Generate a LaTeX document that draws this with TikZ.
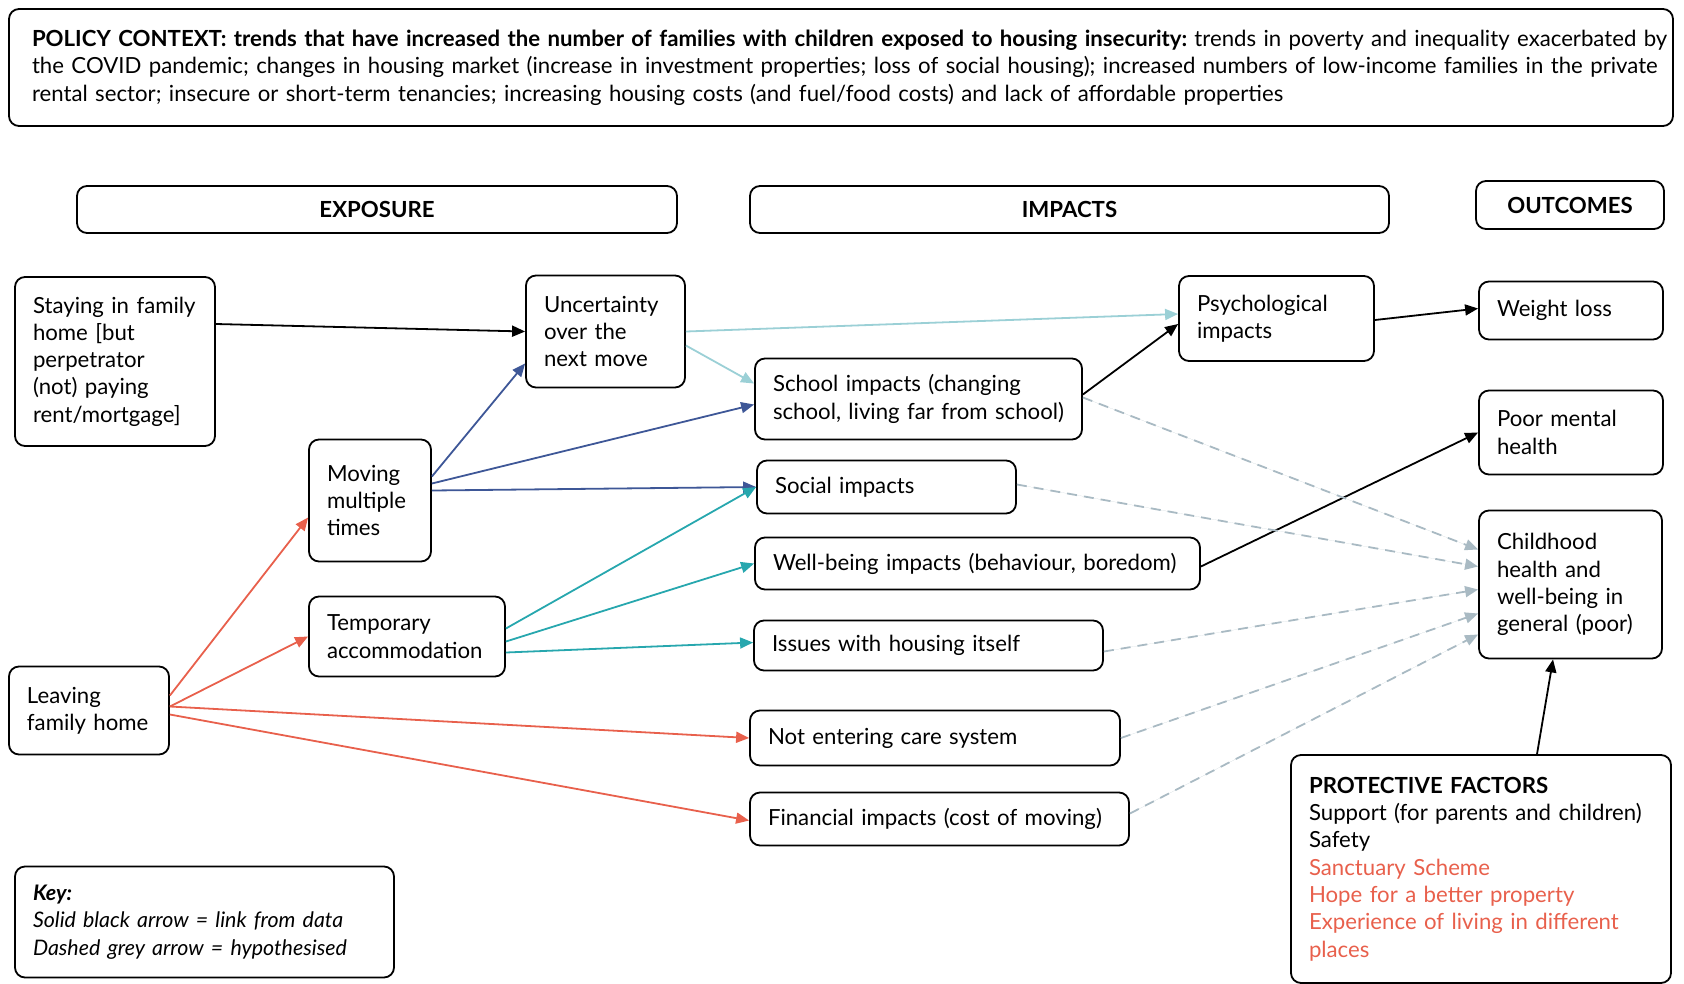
\documentclass[tikz,border=0pt]{standalone}
\usepackage{fontspec}
\setmainfont{Lato}
\usetikzlibrary{arrows.meta}
\definecolor{coral}{HTML}{E8604C}
\definecolor{navyblue}{HTML}{3E5797}
\definecolor{tealc}{HTML}{27A7AE}
\definecolor{palet}{HTML}{9BD0D6}
\definecolor{greyd}{HTML}{A9BAC3}
\begin{document}
\frenchspacing
\begin{tikzpicture}[x=1pt,y=-1pt,
  every node/.style={font=\fontsize{22.2}{27.3}\selectfont},
  box/.style={draw=black,line width=1.8pt,rounded corners=10pt,inner sep=0pt,align=left},
  head/.style={box,align=center,font=\fontsize{22.2}{27.3}\selectfont\bfseries},
  link/.style={line width=1.8pt,-{Triangle[length=13pt,width=11pt]}},
  lnkdata/.style={link,draw=black,fill=black},
  lnkred/.style={link,draw=coral,fill=coral},
  lnknavy/.style={link,draw=navyblue,fill=navyblue},
  lnkteal/.style={link,draw=tealc,fill=tealc},
  lnkpale/.style={link,draw=palet,fill=palet},
  lnkhyp/.style={link,draw=greyd,fill=greyd,dash pattern=on 10pt off 7pt},
]
\useasboundingbox (0,0) rectangle (1684,983);

% context box across the top
\node[box,minimum width=1664pt,minimum height=117pt,text width=1618pt] (policy) at (841,67.5)
  {\mbox{\textbf{POLICY CONTEXT: trends that have increased the number of families with children exposed to housing insecurity:} trends in poverty and inequality exacerbated by}\\
   \mbox{the COVID pandemic; changes in housing market (increase in investment properties; loss of social housing); increased numbers of low-income families in the private}\\
   \mbox{rental sector; insecure or short-term tenancies; increasing housing costs (and fuel/food costs) and lack of affordable properties}};

% column headers
\node[head,minimum width=600pt,minimum height=47pt] (expo) at (377,209.5) {EXPOSURE};
\node[head,minimum width=639pt,minimum height=47pt] (imp) at (1069.5,209.5) {IMPACTS};
\node[head,minimum width=188pt,minimum height=48pt] (outc) at (1570,205) {OUTCOMES};

% exposure
\node[box,minimum width=200pt,minimum height=169pt,text width=164pt] (stay) at (115,361.5)
  {Staying in family\\home [but\\perpetrator\\(not) paying\\rent/mortgage]};
\node[box,minimum width=122pt,minimum height=122pt,text width=86pt] (mov) at (370,500.5)
  {Moving\\multiple\\times};
\node[box,minimum width=196pt,minimum height=80pt,text width=160pt] (tmp) at (407,636.5)
  {Temporary\\accommodation};
\node[box,minimum width=160pt,minimum height=88pt,text width=124pt] (lea) at (89,710.5)
  {Leaving\\family home};
\node[box,minimum width=159pt,minimum height=112pt,text width=123pt] (unc) at (605.5,331.5)
  {Uncertainty\\over the\\next move};

% impacts
\node[box,minimum width=195pt,minimum height=85pt,text width=159pt] (psy) at (1276.5,318.5)
  {Psychological\\impacts};
\node[box,minimum width=327pt,minimum height=81pt,text width=291pt] (sch) at (918.5,399)
  {School impacts (changing\\school, living far from school)};
\node[box,minimum width=259pt,minimum height=53pt,text width=223pt] (soc) at (886.5,487)
  {Social impacts};
\node[box,minimum width=445pt,minimum height=52pt,text width=409pt] (wb) at (977.5,563.5)
  {Well-being impacts (behaviour, boredom)};
\node[box,minimum width=349pt,minimum height=50pt,text width=313pt] (iss) at (928.5,645.5)
  {Issues with housing itself};
\node[box,minimum width=370pt,minimum height=55pt,text width=334pt] (noe) at (935,738)
  {Not entering care system};
\node[box,minimum width=379pt,minimum height=53pt,text width=343pt] (fin) at (939.5,819)
  {Financial impacts (cost of moving)};

% outcomes
\node[box,minimum width=184pt,minimum height=58pt,text width=148pt] (wl) at (1571,310.5)
  {Weight loss};
\node[box,minimum width=184pt,minimum height=84pt,text width=148pt] (pmh) at (1571,432.5)
  {Poor mental\\health};
\node[box,minimum width=183pt,minimum height=148pt,text width=147pt] (chd) at (1570.5,584.5)
  {Childhood\\health and\\well-being in\\general (poor)};

% protective factors and key
\node[box,minimum width=380pt,minimum height=228pt,text width=344pt] (pro) at (1481,869)
  {\textbf{PROTECTIVE FACTORS}\\Support (for parents and children)\\Safety\\
   \textcolor{coral}{Sanctuary Scheme}\\\textcolor{coral}{Hope for a better property}\\
   \textcolor{coral}{Experience of living in different}\\\textcolor{coral}{places}};
\node[box,minimum width=379pt,minimum height=111pt,text width=343pt,
      font=\fontsize{21.4}{27.3}\selectfont\itshape] (key) at (204.5,922)
  {\textbf{Key:}\\Solid black arrow = link from data\\Dashed grey arrow = hypothesised};

% links from exposure
\draw[lnkdata] ([yshift=37.5pt]stay.east) -- (unc.west);
\draw[lnkpale] (unc.east) -- ([yshift=4.5pt]psy.west);
\draw[lnkpale] ([yshift=-14pt]unc.east) -- ([yshift=15.5pt]sch.west);
\draw[lnknavy] ([yshift=24pt]mov.east) -- ([yshift=-32pt]unc.west);
\draw[lnknavy] ([yshift=17pt]mov.east) -- ([yshift=-5.5pt]sch.west);
\draw[lnknavy] ([yshift=10pt]mov.east) -- (soc.west);
\draw[lnkteal] ([yshift=8pt]tmp.east) -- (soc.west);
\draw[lnkteal] ([yshift=-5pt]tmp.east) -- (wb.west);
\draw[lnkteal] ([yshift=-16pt]tmp.east) -- ([yshift=3pt]iss.west);
\draw[lnkred] ([yshift=15pt]lea.east) -- ([yshift=-17pt]mov.west);
\draw[lnkred] ([yshift=4pt]lea.east) -- (tmp.west);
\draw[lnkred] ([yshift=4pt]lea.east) -- (noe.west);
\draw[lnkred] ([yshift=-4pt]lea.east) -- ([yshift=-1.5pt]fin.west);

% links towards outcomes
\draw[lnkdata] ([yshift=4.5pt]sch.east) -- ([yshift=-5.5pt]psy.west);
\draw[lnkdata] ([yshift=-1.5pt]psy.east) -- ([yshift=2pt]wl.west);
\draw[lnkdata] ([yshift=-3pt]wb.east) -- (pmh.west);
\draw[lnkhyp] ([yshift=1.5pt]sch.east) -- ([yshift=35pt]chd.west);
\draw[lnkhyp] ([yshift=2.5pt]soc.east) -- ([yshift=18pt]chd.west);
\draw[lnkhyp] ([yshift=-6pt]iss.east) -- ([yshift=-5pt]chd.west);
\draw[lnkhyp] (noe.east) -- ([yshift=-29pt]chd.west);
\draw[lnkhyp] ([yshift=5.5pt]fin.east) -- ([yshift=-50pt]chd.west);
\draw[lnkdata] ([xshift=56pt]pro.north) -- ([xshift=-17.5pt]chd.south);
\end{tikzpicture}
\end{document}
